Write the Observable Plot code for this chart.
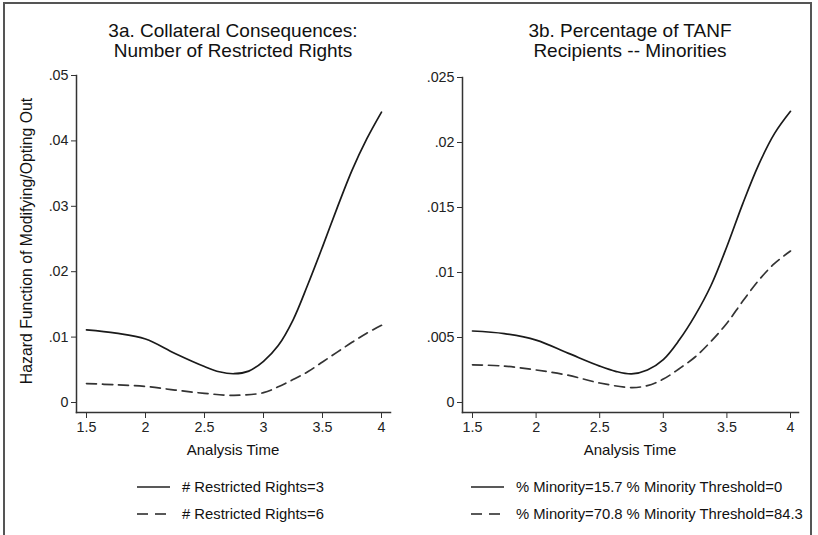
<!DOCTYPE html>
<html><head><meta charset="utf-8">
<script src="https://cdn.jsdelivr.net/npm/d3@7"></script>
<script src="https://cdn.jsdelivr.net/npm/@observablehq/plot@0.6"></script>
<style>
body{margin:0;background:#fff;font-family:"Liberation Sans",Arial,sans-serif;}
#wrap{position:relative;width:818px;height:535px;overflow:hidden;background:#fff;}
.border{position:absolute;left:3px;top:2px;width:809px;height:600px;border:2px solid #555;box-sizing:border-box;}
.panel{position:absolute;top:0;}
.title{position:absolute;text-align:center;color:#111;white-space:nowrap;transform:translateX(-50%);}
.title div{font-size:19px;line-height:20px;height:20px;}
.axlab{position:absolute;font-size:15px;color:#111;white-space:nowrap;transform:translate(-50%,-50%);}
.ylab{position:absolute;font-size:15.8px;color:#111;white-space:nowrap;transform:translate(-50%,-50%) rotate(-90deg);}
.leg{position:absolute;font-size:14.8px;color:#111;white-space:nowrap;display:flex;align-items:center;transform:translateY(-50%);}
.leg svg{margin-right:12px;}
</style>
</head><body>
<div id="wrap">
  <div class="border"></div>
  <div class="panel" id="pA" style="left:0px"></div>
  <div class="panel" id="pB" style="left:409px"></div>
  <div class="title" style="left:233px;top:21px"><div>3a. Collateral Consequences:</div><div>Number of Restricted Rights</div></div>
  <div class="title" style="left:630px;top:21px"><div>3b. Percentage of TANF</div><div>Recipients -- Minorities</div></div>
  <div class="ylab" style="left:27px;top:241px">Hazard Function of Modifying/Opting Out</div>
  <div class="axlab" style="left:233px;top:449px">Analysis Time</div>
  <div class="axlab" style="left:630px;top:449px">Analysis Time</div>
  <div id="legA"></div>
  <div id="legB"></div>
</div>
<script>
// ---- data ----
const xTicks = [1.5, 2, 2.5, 3, 3.5, 4];
const yTicksA = [0, 0.01, 0.02, 0.03, 0.04, 0.05];
const yTicksB = [0, 0.005, 0.01, 0.015, 0.02, 0.025];

const seriesA = ["# Restricted Rights=3", "# Restricted Rights=6"];
const seriesB = ["% Minority=15.7 % Minority Threshold=0", "% Minority=70.8 % Minority Threshold=84.3"];

const tA1 = [1.5, 1.75, 2.0, 2.25, 2.5, 2.625, 2.75, 2.875, 3.0, 3.125, 3.25, 3.375, 3.5, 3.625, 3.75, 3.875, 4.0];
const vA1 = [0.0111, 0.0106, 0.0097, 0.0075, 0.0055, 0.0047, 0.0044, 0.0048, 0.0063, 0.0087, 0.0126, 0.0180, 0.0238, 0.0298, 0.0355, 0.0403, 0.0444];

const tA2 = [1.5, 1.75, 2.0, 2.25, 2.5, 2.75, 3.0, 3.125, 3.25, 3.375, 3.5, 3.625, 3.75, 3.875, 4.0];
const vA2 = [0.0029, 0.0027, 0.00245, 0.0019, 0.0014, 0.0011, 0.0015, 0.0024, 0.0035, 0.0047, 0.0062, 0.0077, 0.0092, 0.0106, 0.0118];

const tB1 = [1.5, 1.75, 2.0, 2.25, 2.5, 2.625, 2.75, 2.875, 3.0, 3.125, 3.25, 3.375, 3.5, 3.625, 3.75, 3.875, 4.0];
const vB1 = [0.0055, 0.0053, 0.0048, 0.0038, 0.0028, 0.0024, 0.0022, 0.0025, 0.0033, 0.0048, 0.0067, 0.0090, 0.0120, 0.0153, 0.0183, 0.0207, 0.0224];

const tB2 = [1.5, 1.75, 2.0, 2.25, 2.5, 2.75, 2.875, 3.0, 3.125, 3.25, 3.375, 3.5, 3.625, 3.75, 3.875, 4.0];
const vB2 = [0.0029, 0.0028, 0.0025, 0.0021, 0.0015, 0.00115, 0.0013, 0.0018, 0.0026, 0.0035, 0.0047, 0.0061, 0.0078, 0.0094, 0.0107, 0.01165];

// ---- helpers ----
const rows = (ts, vs) => ts.map((t, i) => ({t, v: vs[i]}));
const fmt = d => d === 0 ? "0" : String(d).replace(/^0/, "");
const DASH = "10,6";
const font = '"Liberation Sans", Arial, sans-serif';

function panel({yDomain, yTicks, solid, dashed, marginLeft, marginRight, marginTop, insetRight}) {
  return Plot.plot({
    width: 409, height: 470,
    marginLeft, marginRight, marginTop, marginBottom: 58,
    insetLeft: 10, insetRight, insetBottom: 10,
    x: {domain: [1.5, 4]},
    y: {domain: yDomain},
    style: {fontFamily: font, fontSize: "14.3px", color: "#222", background: "transparent"},
    marks: [
      Plot.frame({anchor: "left", stroke: "#333", strokeWidth: 1.5}),
      Plot.frame({anchor: "bottom", stroke: "#333", strokeWidth: 1.5}),
      Plot.axisX({ticks: xTicks, tickFormat: d => String(d), tickSize: 6, tickPadding: 3, label: null, stroke: "#333"}),
      Plot.axisY({ticks: yTicks, tickFormat: fmt, tickSize: 5, tickPadding: 3, label: null, stroke: "#333"}),
      Plot.line(solid, {x: "t", y: "v", curve: "catmull-rom", stroke: "#1a1a1a", strokeWidth: 1.7}),
      Plot.line(dashed, {x: "t", y: "v", curve: "catmull-rom", stroke: "#333", strokeWidth: 1.7, strokeDasharray: DASH})
    ]
  });
}

document.getElementById("pA").append(panel({
  yDomain: [0, 0.05], yTicks: yTicksA, solid: rows(tA1, vA1), dashed: rows(tA2, vA2),
  marginLeft: 76, marginRight: 19, marginTop: 75, insetRight: 9
}));
document.getElementById("pB").append(panel({
  yDomain: [0, 0.025], yTicks: yTicksB, solid: rows(tB1, vB1), dashed: rows(tB2, vB2),
  marginLeft: 53, marginRight: 20, marginTop: 77, insetRight: 8
}));

function legend(id, labels, left) {
  const el = document.getElementById(id);
  labels.forEach((lab, i) => {
    const row = document.createElement("div");
    row.className = "leg";
    row.style.left = left + "px";
    row.style.top = (487 + i * 27) + "px";
    const dash = i === 1 ? ` stroke-dasharray="11,7"` : "";
    row.innerHTML = `<svg width="33" height="4"><line x1="0" y1="2" x2="33" y2="2" stroke="#222" stroke-width="1.7"${dash}/></svg><span>${lab}</span>`;
    el.appendChild(row);
  });
}
legend("legA", seriesA, 137);
legend("legB", seriesB, 471);
</script>
</body></html>
